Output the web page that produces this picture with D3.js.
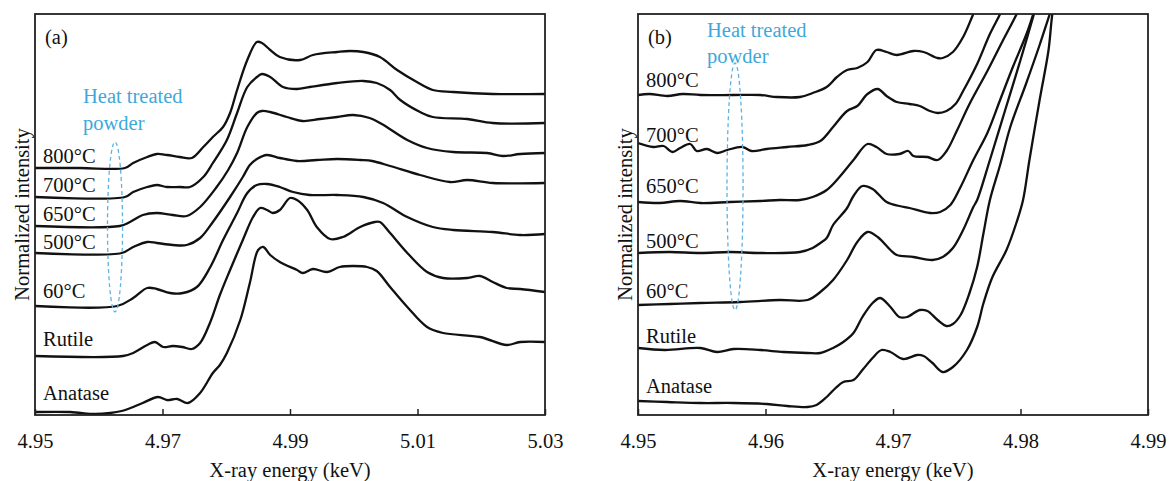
<!DOCTYPE html>
<html>
<head>
<meta charset="utf-8">
<script src="https://cdn.jsdelivr.net/npm/d3@7"></script>
<style>
  body { margin: 0; background: #fff; }
  text { font-family: "Liberation Serif", "Times New Roman", "DejaVu Serif", serif; }
</style>
</head>
<body>
<svg id="chart" width="1169" height="481"></svg>
<script>
// ---------- data ----------
const sampleNames = ["800°C", "700°C", "650°C", "500°C", "60°C", "Rutile", "Anatase"];

// Panel (a): Ti K-edge XANES, full range. Each point = [energy keV, normalized intensity]
const ticksA = [4.95, 4.97, 4.99, 5.01, 5.03];
const offsetsA = [2.47, 2.18, 1.89, 1.62, 1.09, 0.59, 0.03];
const a800 = [[4.9500,0],[4.9571,0],[4.9641,0],[4.9654,0.05],[4.9676,0.11],[4.9691,0.14],[4.9707,0.13],[4.9727,0.11],[4.9746,0.10],[4.9764,0.21],[4.9779,0.31],[4.9795,0.41],[4.9806,0.55],[4.9817,0.78],[4.9833,1.08],[4.9848,1.26],[4.9856,1.25],[4.9869,1.18],[4.9884,1.11],[4.9916,1.08],[4.9936,1.13],[4.9974,1.16],[4.9994,1.17],[5.0015,1.16],[5.0041,1.11],[5.0068,0.98],[5.0099,0.86],[5.0124,0.78],[5.0156,0.76],[5.0218,0.74],[5.0300,0.74]];
const a700 = [[4.9500,0],[4.9641,0],[4.9654,0.05],[4.9676,0.10],[4.9691,0.12],[4.9707,0.10],[4.9727,0.10],[4.9743,0.10],[4.9764,0.20],[4.9779,0.34],[4.9801,0.57],[4.9817,0.84],[4.9833,1.10],[4.9848,1.20],[4.9856,1.23],[4.9869,1.20],[4.9889,1.10],[4.9911,1.08],[4.9931,1.10],[4.9974,1.14],[5.0015,1.16],[5.0036,1.14],[5.0057,1.07],[5.0073,0.97],[5.0104,0.85],[5.0124,0.80],[5.0178,0.78],[5.0218,0.74],[5.0300,0.74]];
const a650 = [[4.9500,0],[4.9633,0],[4.9649,0.04],[4.9669,0.11],[4.9691,0.13],[4.9716,0.11],[4.9738,0.10],[4.9759,0.19],[4.9785,0.39],[4.9803,0.56],[4.9817,0.73],[4.9833,0.99],[4.9848,1.13],[4.9856,1.15],[4.9869,1.14],[4.9895,1.09],[4.9920,1.05],[4.9947,1.07],[4.9974,1.09],[4.9999,1.11],[5.0025,1.08],[5.0044,1.02],[5.0084,0.86],[5.0115,0.78],[5.0156,0.74],[5.0209,0.73],[5.0234,0.70],[5.0261,0.72],[5.0300,0.73]];
const a500 = [[4.9500,0],[4.9636,0],[4.9654,0.06],[4.9676,0.11],[4.9691,0.10],[4.9716,0.08],[4.9738,0.08],[4.9759,0.15],[4.9779,0.31],[4.9806,0.56],[4.9826,0.76],[4.9837,0.88],[4.9848,0.94],[4.9864,0.98],[4.9884,0.95],[4.9911,0.92],[4.9942,0.93],[4.9974,0.94],[5.0010,0.93],[5.0029,0.92],[5.0057,0.87],[5.0104,0.78],[5.0151,0.71],[5.0178,0.73],[5.0218,0.70],[5.0300,0.70]];
const a60 = [[4.9500,0],[4.9629,0],[4.9654,0.08],[4.9676,0.18],[4.9691,0.17],[4.9712,0.13],[4.9732,0.13],[4.9754,0.19],[4.9775,0.39],[4.9795,0.66],[4.9817,0.93],[4.9833,1.13],[4.9848,1.21],[4.9864,1.22],[4.9884,1.19],[4.9905,1.14],[4.9931,1.11],[4.9974,1.11],[5.0015,1.09],[5.0046,1.03],[5.0084,0.89],[5.0124,0.79],[5.0156,0.76],[5.0218,0.74],[5.0261,0.71],[5.0300,0.72]];
const aRutile = [[4.9500,0],[4.9638,0],[4.9654,0.03],[4.9676,0.11],[4.9688,0.14],[4.9701,0.09],[4.9716,0.10],[4.9731,0.09],[4.9746,0.07],[4.9759,0.13],[4.9775,0.34],[4.9790,0.61],[4.9806,0.86],[4.9826,1.16],[4.9842,1.39],[4.9853,1.48],[4.9864,1.46],[4.9873,1.43],[4.9884,1.46],[4.9900,1.58],[4.9911,1.56],[4.9927,1.46],[4.9942,1.29],[4.9963,1.17],[4.9983,1.19],[5.0010,1.29],[5.0033,1.34],[5.0041,1.34],[5.0057,1.23],[5.0084,1.03],[5.0115,0.84],[5.0140,0.78],[5.0178,0.78],[5.0198,0.80],[5.0218,0.74],[5.0240,0.68],[5.0261,0.67],[5.0300,0.64]];
const aAnatase = [[4.9500,0],[4.9555,0],[4.9594,-0.02],[4.9618,-0.01],[4.9636,0.01],[4.9654,0.05],[4.9669,0.09],[4.9693,0.15],[4.9707,0.12],[4.9723,0.13],[4.9740,0.09],[4.9759,0.19],[4.9779,0.39],[4.9790,0.47],[4.9801,0.59],[4.9822,0.92],[4.9837,1.29],[4.9850,1.62],[4.9858,1.65],[4.9869,1.57],[4.9884,1.50],[4.9911,1.42],[4.9920,1.39],[4.9936,1.43],[4.9958,1.40],[4.9978,1.45],[4.9999,1.46],[5.0021,1.45],[5.0036,1.41],[5.0057,1.25],[5.0084,1.05],[5.0115,0.85],[5.0140,0.79],[5.0198,0.75],[5.0240,0.67],[5.0261,0.70],[5.0300,0.70]];

// Panel (b): pre-edge region, expanded
const ticksB = [4.95, 4.96, 4.97, 4.98, 4.99];
const offsetsB = [3.20, 2.70, 2.13, 1.62, 1.10, 0.67, 0.14];
const b800 = [[4.9500,0],[4.9509,0.01],[4.9523,-0.01],[4.9535,0.01],[4.9549,0],[4.9575,0],[4.9596,0],[4.9609,-0.02],[4.9627,-0.02],[4.9637,0.02],[4.9648,0.08],[4.9656,0.18],[4.9664,0.25],[4.9672,0.27],[4.9680,0.33],[4.9687,0.45],[4.9695,0.43],[4.9703,0.40],[4.9716,0.44],[4.9724,0.43],[4.9735,0.37],[4.9739,0.37],[4.9747,0.43],[4.9755,0.58],[4.9762,0.78],[4.9766,0.90]];
const b700 = [[4.9500,0.02],[4.9512,-0.02],[4.9520,-0.01],[4.9527,-0.07],[4.9533,-0.03],[4.9541,0.01],[4.9546,-0.06],[4.9554,-0.04],[4.9562,-0.08],[4.9570,-0.05],[4.9582,-0.02],[4.9589,-0.06],[4.9601,-0.04],[4.9617,-0.02],[4.9633,0],[4.9643,0.04],[4.9653,0.18],[4.9664,0.34],[4.9672,0.39],[4.9680,0.51],[4.9688,0.56],[4.9695,0.49],[4.9703,0.43],[4.9713,0.41],[4.9721,0.39],[4.9729,0.34],[4.9735,0.32],[4.9742,0.34],[4.9749,0.41],[4.9755,0.54],[4.9766,0.81],[4.9776,1.11],[4.9784,1.31],[4.9787,1.40]];
const b650 = [[4.9500,0],[4.9517,-0.01],[4.9533,0.01],[4.9549,-0.01],[4.9572,0],[4.9596,0.01],[4.9611,0.02],[4.9627,0.02],[4.9637,0.05],[4.9648,0.12],[4.9658,0.25],[4.9669,0.42],[4.9680,0.58],[4.9687,0.55],[4.9695,0.48],[4.9705,0.48],[4.9712,0.51],[4.9716,0.46],[4.9727,0.45],[4.9735,0.42],[4.9742,0.51],[4.9750,0.71],[4.9760,0.98],[4.9774,1.31],[4.9786,1.61],[4.9797,1.88],[4.9800,1.97]];
const b500 = [[4.9500,0],[4.9525,0.01],[4.9549,0],[4.9572,0.01],[4.9596,0],[4.9627,0.01],[4.9637,0.05],[4.9643,0.10],[4.9648,0.15],[4.9653,0.28],[4.9664,0.45],[4.9669,0.57],[4.9676,0.67],[4.9684,0.64],[4.9695,0.51],[4.9705,0.47],[4.9713,0.45],[4.9729,0.40],[4.9737,0.41],[4.9745,0.48],[4.9753,0.66],[4.9763,0.93],[4.9774,1.20],[4.9784,1.53],[4.9794,1.86],[4.9805,2.20],[4.9811,2.43]];
const b60 = [[4.9500,0],[4.9525,0.01],[4.9549,0.02],[4.9580,0.03],[4.9611,0.05],[4.9633,0.05],[4.9643,0.13],[4.9653,0.25],[4.9664,0.45],[4.9672,0.63],[4.9680,0.73],[4.9688,0.68],[4.9698,0.55],[4.9703,0.50],[4.9716,0.48],[4.9731,0.45],[4.9739,0.48],[4.9747,0.57],[4.9755,0.75],[4.9763,0.98],[4.9766,1.05],[4.9776,1.45],[4.9788,1.95],[4.9800,2.45],[4.9811,2.93]];
const bRutile = [[4.9500,0],[4.9521,-0.02],[4.9549,0],[4.9562,-0.04],[4.9575,-0.01],[4.9596,-0.02],[4.9614,-0.04],[4.9633,-0.05],[4.9643,-0.05],[4.9653,0],[4.9661,0.06],[4.9669,0.15],[4.9676,0.31],[4.9684,0.45],[4.9690,0.50],[4.9698,0.41],[4.9705,0.31],[4.9711,0.31],[4.9721,0.38],[4.9727,0.37],[4.9735,0.28],[4.9742,0.22],[4.9747,0.24],[4.9753,0.33],[4.9760,0.55],[4.9766,0.81],[4.9771,1.15],[4.9776,1.48],[4.9784,1.83],[4.9792,2.21],[4.9804,2.63],[4.9815,3.03],[4.9823,3.34],[4.9826,3.45]];
const bAnatase = [[4.9500,0],[4.9523,-0.01],[4.9549,-0.02],[4.9575,-0.02],[4.9601,-0.03],[4.9617,-0.05],[4.9633,-0.06],[4.9640,-0.04],[4.9648,0.04],[4.9655,0.13],[4.9661,0.19],[4.9669,0.21],[4.9676,0.31],[4.9684,0.43],[4.9691,0.51],[4.9698,0.49],[4.9708,0.42],[4.9719,0.46],[4.9724,0.45],[4.9731,0.38],[4.9739,0.29],[4.9747,0.34],[4.9758,0.51],[4.9766,0.74],[4.9771,0.98],[4.9778,1.24],[4.9789,1.51],[4.9797,1.79],[4.9802,2.01],[4.9807,2.41],[4.9815,3.01],[4.9822,3.51],[4.9825,3.87],[4.9827,3.98]];

const seriesA = [a800, a700, a650, a500, a60, aRutile, aAnatase];
const seriesB = [b800, b700, b650, b500, b60, bRutile, bAnatase];

// ---------- drawing ----------
const svg = d3.select("#chart");
const FONT = 20.5;
const SERIF = "'Liberation Serif', 'Times New Roman', 'DejaVu Serif', serif";
const blue = "#3ea8dc";

function label(g, x, y, str, color) {
  return g.append("text")
    .attr("x", x).attr("y", y)
    .attr("font-family", SERIF)
    .attr("font-size", FONT)
    .attr("fill", color || "#111")
    .text(str);
}

function drawPanel(cfg) {
  const { left, right, top, bottom, domainX, ticks, series, offsets, tag, labelLift,
          noteX, noteY1, noteY2, ellipse, id } = cfg;
  const x = d3.scaleLinear().domain(domainX).range([left, right]);
  const y = d3.scaleLinear().domain([0, 4.01]).range([bottom, top]);
  const g = svg.append("g");

  g.append("clipPath").attr("id", id).append("rect")
    .attr("x", left).attr("y", top).attr("width", right - left).attr("height", bottom - top);

  const line = d3.line()
    .x(d => x(d[0]))
    .y(d => y(d[1]))
    .curve(d3.curveCatmullRom.alpha(0.5));

  const curves = g.append("g").attr("clip-path", `url(#${id})`);
  series.forEach((s, i) => {
    const pts = s.map(p => [p[0], p[1] + offsets[i]]);
    curves.append("path")
      .attr("d", line(pts))
      .attr("fill", "none")
      .attr("stroke", "#111")
      .attr("stroke-width", 2.3)
      .attr("stroke-linejoin", "round");
  });

  // sample labels
  sampleNames.forEach((name, i) => {
    label(g, left + 8, y(offsets[i]) - labelLift[i], name);
  });

  // heat-treated group marker
  const ex = x(ellipse.e);
  g.append("ellipse")
    .attr("cx", ex)
    .attr("cy", y(ellipse.c))
    .attr("rx", x(ellipse.e + ellipse.de) - ex)
    .attr("ry", y(0) - y(ellipse.r))
    .attr("fill", "none")
    .attr("stroke", "#5fb2e2")
    .attr("stroke-width", 1.3)
    .attr("stroke-dasharray", "4,3");
  label(g, noteX, noteY1, "Heat treated", blue);
  label(g, noteX, noteY2, "powder", blue);

  // frame
  g.append("rect")
    .attr("x", left).attr("y", top)
    .attr("width", right - left).attr("height", bottom - top)
    .attr("fill", "none").attr("stroke", "#222").attr("stroke-width", 1.8);

  // bottom axis, ticks pointing inward
  const axis = d3.axisBottom(x).tickValues(ticks)
    .tickFormat(d => d.toFixed(2))
    .tickSizeInner(-6).tickSizeOuter(0).tickPadding(18);
  const ag = g.append("g").attr("transform", `translate(0,${bottom})`).call(axis)
    .attr("font-family", SERIF);
  ag.select(".domain").remove();
  ag.selectAll(".tick line").attr("stroke", "#222").attr("stroke-width", 1.5);
  ag.selectAll(".tick text")
    .attr("font-size", FONT)
    .attr("font-family", SERIF)
    .attr("fill", "#111");

  // axis titles
  label(g, (left + right) / 2, 477, "X-ray energy (keV)").attr("text-anchor", "middle");
  g.append("text")
    .attr("transform", `translate(${left - 6},${(top + bottom) / 2}) rotate(-90)`)
    .attr("text-anchor", "middle")
    .attr("font-family", SERIF)
    .attr("font-size", FONT).attr("fill", "#111")
    .text("Normalized intensity");

  // panel tag
  label(g, left + 10, top + 30, tag);
}

drawPanel({
  id: "clipA", left: 35, right: 545, top: 14, bottom: 415,
  domainX: [4.95, 5.03], ticks: ticksA, series: seriesA, offsets: offsetsA, tag: "(a)",
  labelLift: [5, 5, 5, 4, 8, 10, 12],
  noteX: 83, noteY1: 103, noteY2: 130,
  ellipse: { e: 4.96255, de: 0.00118, c: 1.88, r: 0.85 }
});

drawPanel({
  id: "clipB", left: 638, right: 1148, top: 14, bottom: 415,
  domainX: [4.95, 4.99], ticks: ticksB, series: seriesB, offsets: offsetsB, tag: "(b)",
  labelLift: [8, 3, 9, 5, 7, 5, 8],
  noteX: 707, noteY1: 37, noteY2: 63,
  ellipse: { e: 4.95761, de: 0.00063, c: 2.285, r: 1.235 }
});
</script>
</body>
</html>
